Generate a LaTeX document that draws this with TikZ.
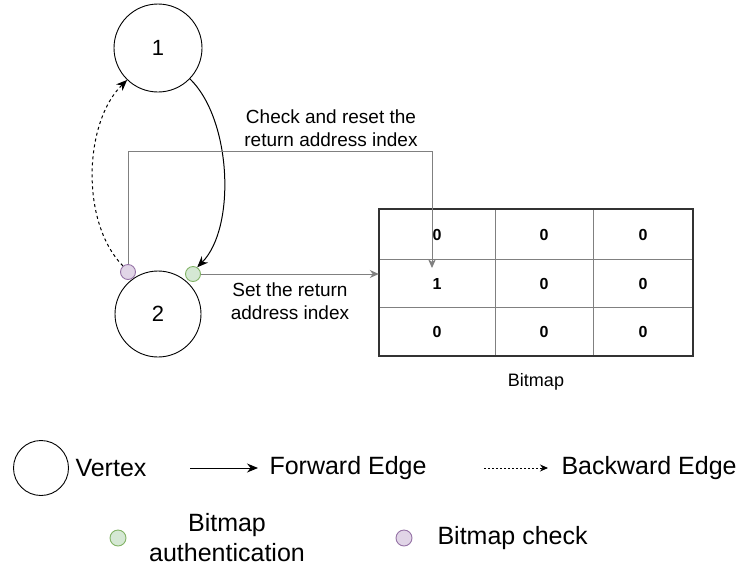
\documentclass[tikz,border=0pt]{standalone}
\usepackage{fontspec}
\setmainfont{Liberation Sans}
\usetikzlibrary{arrows.meta}
\definecolor{gfill}{HTML}{D5E8D4}
\definecolor{gdraw}{HTML}{82B366}
\definecolor{pfill}{HTML}{E1D5E7}
\definecolor{pdraw}{HTML}{9673A6}
\definecolor{conn}{HTML}{808080}
\definecolor{gridout}{HTML}{333333}
\tikzset{
  vertex/.style={circle, draw=black, line width=0.9pt, inner sep=0pt},
  dotg/.style={circle, draw=gdraw, fill=gfill, line width=0.9pt, minimum size=15pt, inner sep=0pt},
  dotp/.style={circle, draw=pdraw, fill=pfill, line width=0.9pt, minimum size=15pt, inner sep=0pt},
  cell/.style={inner sep=0pt, font=\fontsize{16}{19}\selectfont\bfseries},
  lbl/.style={align=center, font=\fontsize{19}{23}\selectfont},
  leg/.style={align=center, font=\fontsize{25}{30}\selectfont},
  fwd/.style={draw=black, line width=1pt, -{Stealth[length=11pt,width=9pt]}},
  bwd/.style={draw=black, line width=1pt, dash pattern=on 3pt off 3pt, -{Stealth[length=11pt,width=9pt]}},
  grayarr/.style={draw=conn, line width=1pt, -{Stealth[length=9pt,width=8pt]}},
}
\begin{document}
\begin{tikzpicture}[x=1pt,y=-1pt]
\useasboundingbox (0,0) rectangle (745,566);
% vertices
\node[vertex, minimum size=88pt, font=\fontsize{22}{26}\selectfont] (v1) at (158,48) {1};
\node[vertex, minimum size=86pt, font=\fontsize{22}{26}\selectfont] (v2) at (158,314) {2};
\node[dotp] (p) at (128,272) {};
\node[dotg] (g) at (193,274) {};
% edges
\draw[fwd] (v1.-44) .. controls (232,120) and (236,228) .. (g.58);
\draw[bwd] (p.130) .. controls (80,222) and (84,122) .. (v1.-134);
% grid cells
\node[cell, minimum width=116pt, minimum height=51pt] (c11) at (437,234.5) {0};
\node[cell, minimum width=98pt, minimum height=51pt] (c12) at (544,234.5) {0};
\node[cell, minimum width=100pt, minimum height=51pt] (c13) at (643,234.5) {0};
\node[cell, minimum width=116pt, minimum height=48pt] (c21) at (437,284) {1};
\node[cell, minimum width=98pt, minimum height=48pt] (c22) at (544,284) {0};
\node[cell, minimum width=100pt, minimum height=48pt] (c23) at (643,284) {0};
\node[cell, minimum width=116pt, minimum height=48pt] (c31) at (437,332) {0};
\node[cell, minimum width=98pt, minimum height=48pt] (c32) at (544,332) {0};
\node[cell, minimum width=100pt, minimum height=48pt] (c33) at (643,332) {0};
\draw[conn, line width=1.2pt] (c11.north east) -- (c31.south east);
\draw[conn, line width=1.2pt] (c12.north east) -- (c32.south east);
\draw[conn, line width=1.2pt] (c21.north west) -- (c23.north east);
\draw[conn, line width=1.2pt] (c31.north west) -- (c33.north east);
\draw[gridout, line width=1.6pt] (c11.north west) rectangle (c33.south east);
\node[lbl, font=\fontsize{18}{22}\selectfont] (bm) at (536,382) {Bitmap};
% connectors to bitmap
\coordinate (chk) at (432,268);
\draw[grayarr] (p.north) |- (chk |- 0,151) -- (chk);
\draw[grayarr] (g.east) -- (g.east -| c21.west);
\node[lbl] (l1) at (331,128) {Check and reset the\\return address index};
\node[lbl] (l2) at (290,301) {Set the return\\address index};
% legend
\node[vertex, minimum size=55pt] (lv) at (41,468) {};
\node[leg, anchor=west] (lvt) at (72,468) {Vertex};
\coordinate (fa) at (190,468);
\coordinate (fb) at (258,468);
\draw[fwd] (fa) -- (fb);
\node[leg, anchor=west] (lft) at (266,468) {Forward Edge};
\coordinate (ba) at (484,468);
\coordinate (bb) at (548,468);
\draw[draw=black, line width=0.9pt, dash pattern=on 2pt off 2pt, -{Stealth[length=8pt,width=7pt]}] (ba) -- (bb);
\node[leg, anchor=west] (lbt) at (558,468) {Backward Edge};
\node[dotg, minimum size=16pt] (lg) at (118,538) {};
\node[leg] (lgt) at (227,538) {Bitmap\\authentication};
\node[dotp, minimum size=16pt] (lp) at (404,538) {};
\node[leg, anchor=west] (lpt) at (434,538) {Bitmap check};
\end{tikzpicture}
\end{document}
